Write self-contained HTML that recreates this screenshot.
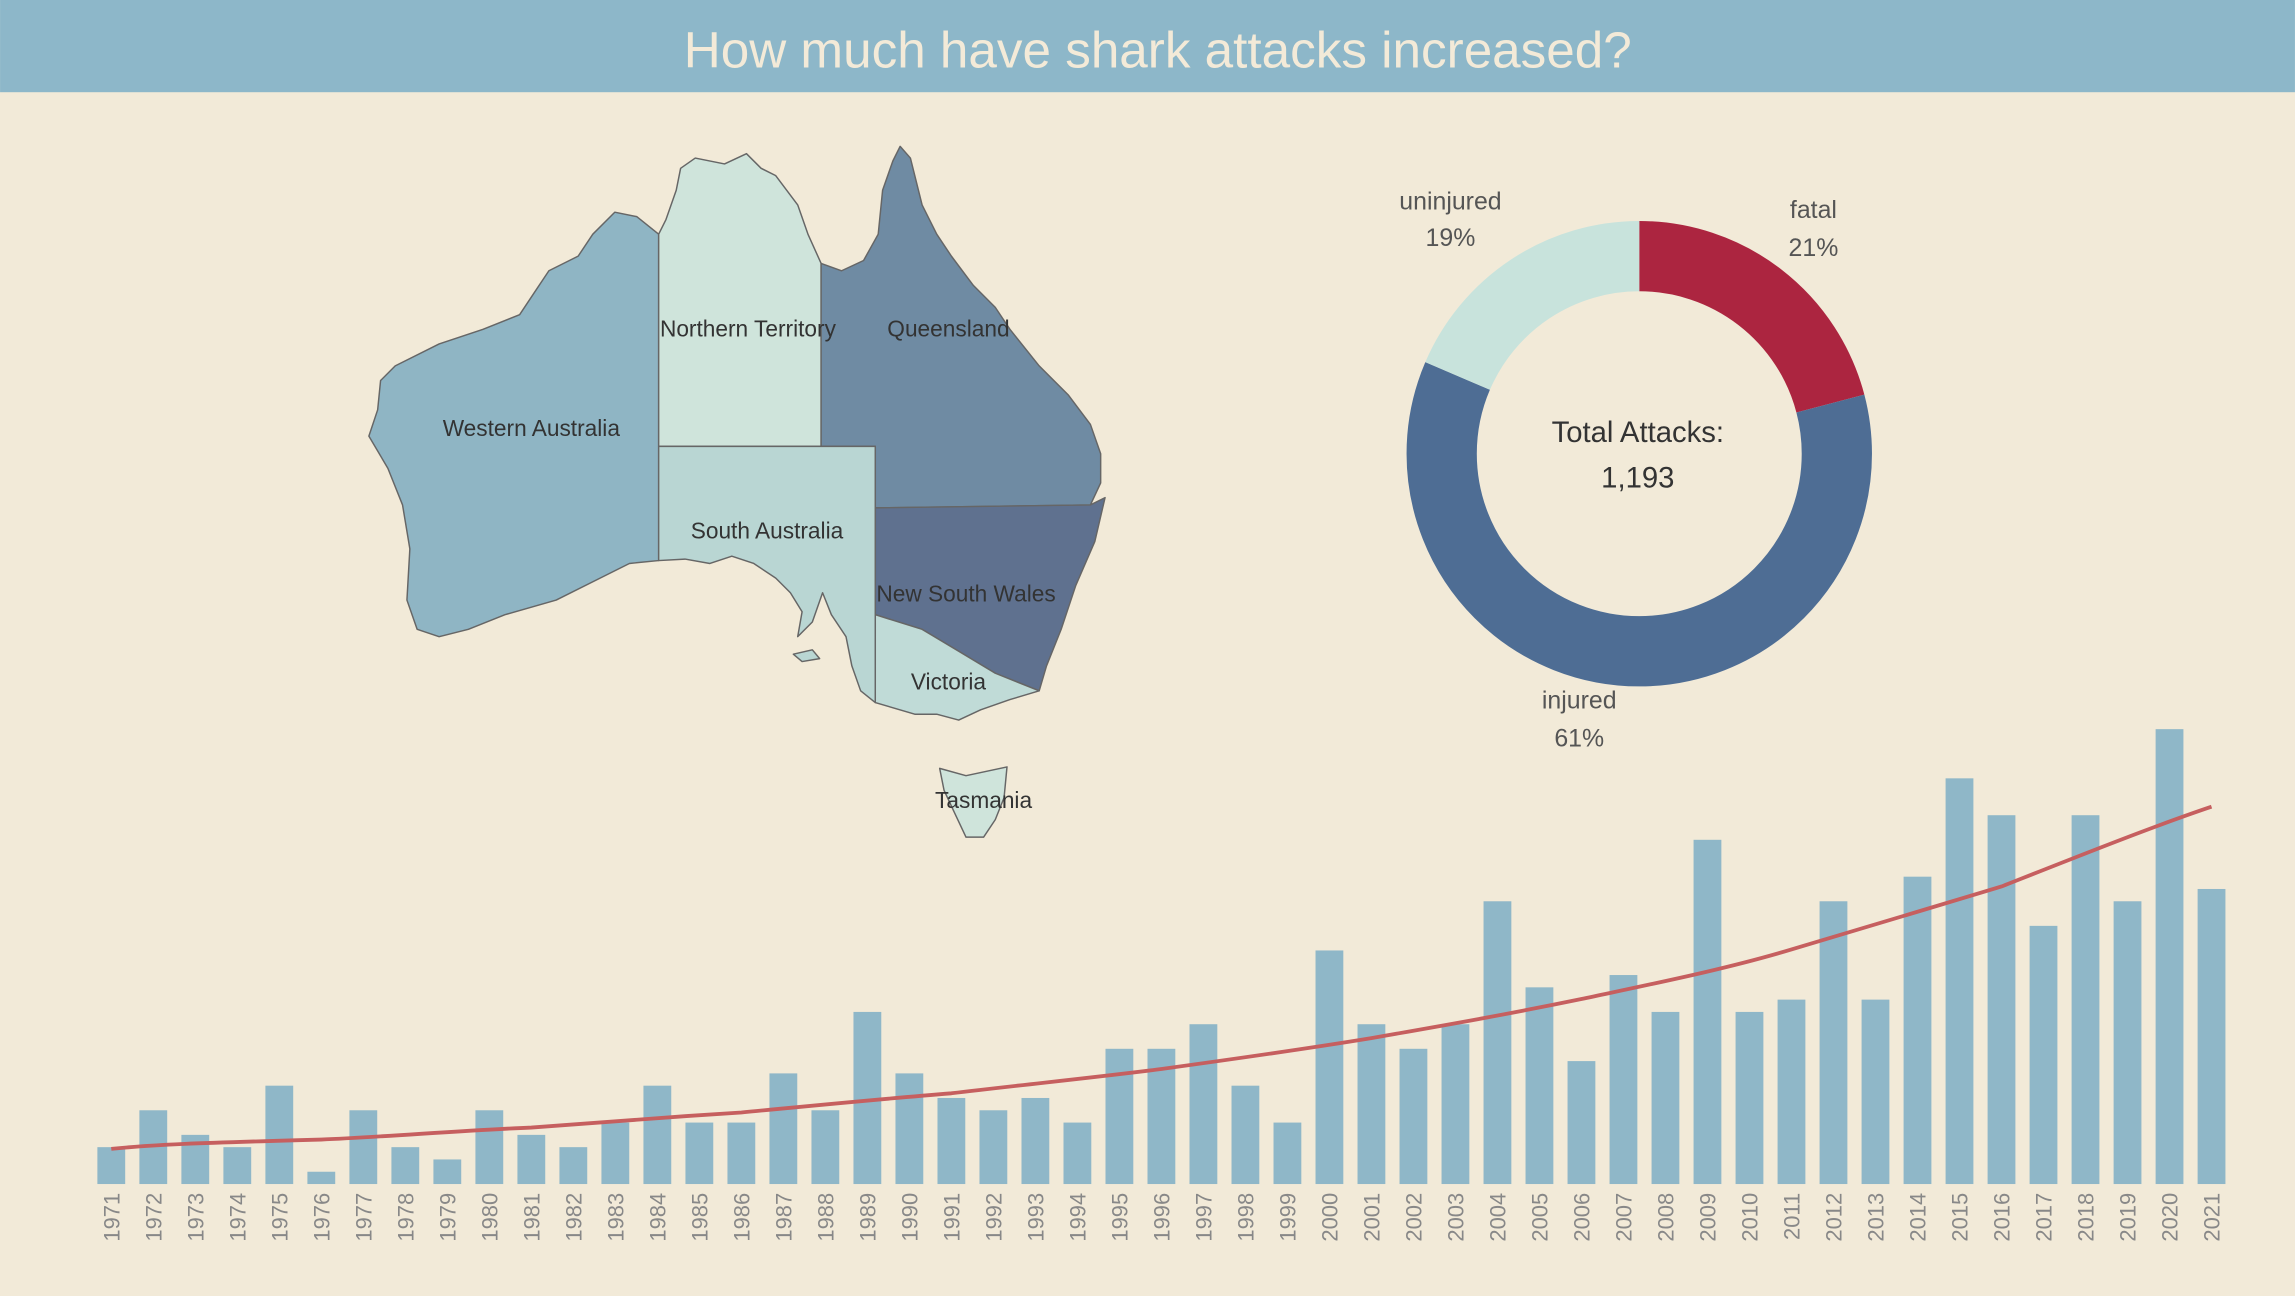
<!DOCTYPE html>
<html><head><meta charset="utf-8"><style>
html,body{margin:0;padding:0;background:#f2ead8;}
svg{display:block;font-family:"Liberation Sans",sans-serif;}
</style></head><body>
<svg width="2295" height="1296" viewBox="0 0 1568 885.5" xmlns="http://www.w3.org/2000/svg">
<rect width="1568" height="885.5" fill="#f2ead8"/>
<rect x="0" y="0" width="1568" height="63" fill="#8db7c9"/>
<text x="791" y="46" font-size="35" fill="#f3ead8" text-anchor="middle">How much have shark attacks increased?</text>

<g stroke="#666" stroke-width="1" stroke-linejoin="round">
<polygon fill="#8fb5c4" points="450,160 435,148 420,145 405,160 395,175 375,185 365,200 355,215 330,225 300,235 270,250 260,260 258,280 252,298 265,320 275,345 280,375 278,410 285,430 300,435 320,430 345,420 380,410 410,395 430,385 450,383"/>
<polygon fill="#cfe4db" points="450,160 455,150 462,130 465,115 475,108 495,112 510,105 520,115 530,120 545,140 552,160 561,180 561,305 450,305"/>
<polygon fill="#6f8ba3" points="561,180 575,185 590,178 600,160 603,130 610,110 615,100 622,108 630,140 640,160 650,175 665,195 680,210 690,225 710,250 730,270 745,290 752,310 752,330 745,345 598,347 598,305 561,305"/>
<polygon fill="#5f718f" points="598,347 745,345 755,340 748,370 735,400 725,430 715,455 710,472 680,460 655,445 630,430 598,420"/>
<polygon fill="#c0dbd7" points="598,420 630,430 655,445 680,460 710,472 690,478 670,485 655,492 640,488 625,488 598,480"/>
<polygon fill="#b9d6d3" points="450,305 598,305 598,480 588,472 582,455 578,435 568,420 562,405 555,425 545,435 548,418 540,405 530,395 515,385 500,380 485,385 468,382 450,383"/>
<polygon fill="#cfe4db" points="642,525 660,530 688,524 686,545 680,560 672,572 660,572 652,555 645,540"/>
<polygon fill="#b9d6d3" points="542,447 555,444 560,450 548,452"/>
</g>
<g font-size="15.5" fill="#333" text-anchor="middle">
<text x="363" y="298">Western Australia</text>
<text x="511" y="230">Northern Territory</text>
<text x="648" y="230">Queensland</text>
<text x="524" y="368">South Australia</text>
<text x="660" y="411">New South Wales</text>
<text x="648" y="471">Victoria</text>
<text x="672" y="552">Tasmania</text>
</g>

<g transform="rotate(-90 1120 310)" fill="none" stroke-width="48">
<circle cx="1120" cy="310" r="135" stroke="#ac2540" stroke-dasharray="177.3 670.9"/>
<circle cx="1120" cy="310" r="135" stroke="#4e6d94" stroke-dasharray="0 177.3 513.2 157.7"/>
<circle cx="1120" cy="310" r="135" stroke="#c8e3dc" stroke-dasharray="0 690.5 157.7 0"/>
</g>
<g font-size="17" fill="#555" text-anchor="middle">
<text x="991" y="143">uninjured</text><text x="991" y="168">19%</text>
<text x="1239" y="149">fatal</text><text x="1239" y="175">21%</text>
<text x="1079" y="484">injured</text><text x="1079" y="510">61%</text>
</g>
<g font-size="20" fill="#333" text-anchor="middle">
<text x="1119" y="302">Total Attacks:</text><text x="1119" y="333">1,193</text>
</g>

<g fill="#8fb7c8">
<rect x="66.5" y="783.8" width="19" height="25.2"/>
<rect x="95.2" y="758.6" width="19" height="50.4"/>
<rect x="123.9" y="775.4" width="19" height="33.6"/>
<rect x="152.6" y="783.8" width="19" height="25.2"/>
<rect x="181.3" y="741.8" width="19" height="67.2"/>
<rect x="210" y="800.6" width="19" height="8.4"/>
<rect x="238.7" y="758.6" width="19" height="50.4"/>
<rect x="267.4" y="783.8" width="19" height="25.2"/>
<rect x="296.1" y="792.2" width="19" height="16.8"/>
<rect x="324.8" y="758.6" width="19" height="50.4"/>
<rect x="353.5" y="775.4" width="19" height="33.6"/>
<rect x="382.2" y="783.8" width="19" height="25.2"/>
<rect x="410.9" y="767" width="19" height="42"/>
<rect x="439.6" y="741.8" width="19" height="67.2"/>
<rect x="468.3" y="767" width="19" height="42"/>
<rect x="497" y="767" width="19" height="42"/>
<rect x="525.7" y="733.4" width="19" height="75.6"/>
<rect x="554.4" y="758.6" width="19" height="50.4"/>
<rect x="583.1" y="691.4" width="19" height="117.6"/>
<rect x="611.8" y="733.4" width="19" height="75.6"/>
<rect x="640.5" y="750.2" width="19" height="58.8"/>
<rect x="669.2" y="758.6" width="19" height="50.4"/>
<rect x="697.9" y="750.2" width="19" height="58.8"/>
<rect x="726.6" y="767" width="19" height="42"/>
<rect x="755.3" y="716.6" width="19" height="92.4"/>
<rect x="784" y="716.6" width="19" height="92.4"/>
<rect x="812.7" y="699.8" width="19" height="109.2"/>
<rect x="841.4" y="741.8" width="19" height="67.2"/>
<rect x="870.1" y="767" width="19" height="42"/>
<rect x="898.8" y="649.4" width="19" height="159.6"/>
<rect x="927.5" y="699.8" width="19" height="109.2"/>
<rect x="956.2" y="716.6" width="19" height="92.4"/>
<rect x="984.9" y="699.8" width="19" height="109.2"/>
<rect x="1013.6" y="615.8" width="19" height="193.2"/>
<rect x="1042.3" y="674.6" width="19" height="134.4"/>
<rect x="1071" y="725" width="19" height="84"/>
<rect x="1099.7" y="666.2" width="19" height="142.8"/>
<rect x="1128.4" y="691.4" width="19" height="117.6"/>
<rect x="1157.1" y="573.8" width="19" height="235.2"/>
<rect x="1185.8" y="691.4" width="19" height="117.6"/>
<rect x="1214.5" y="683" width="19" height="126"/>
<rect x="1243.2" y="615.8" width="19" height="193.2"/>
<rect x="1271.9" y="683" width="19" height="126"/>
<rect x="1300.6" y="599" width="19" height="210"/>
<rect x="1329.3" y="531.8" width="19" height="277.2"/>
<rect x="1358" y="557" width="19" height="252"/>
<rect x="1386.7" y="632.6" width="19" height="176.4"/>
<rect x="1415.4" y="557" width="19" height="252"/>
<rect x="1444.1" y="615.8" width="19" height="193.2"/>
<rect x="1472.8" y="498.2" width="19" height="310.8"/>
<rect x="1501.5" y="607.4" width="19" height="201.6"/>
</g>
<path d="M76,785 C105,782 133,781 219.5,778.6 C260,777 320,772 363,770.4 C420,766 460,763 506.5,760.1 C560,755 600,751 650,747 C700,741 750,736 793.5,730.4 C840,724 890,717 937,709.3 C990,700 1030,693 1080.5,682.6 C1130,672 1180,662 1224,648.7 C1270,635 1320,620 1367.5,605.7 C1420,585 1470,565 1511,551.2" fill="none" stroke="#c65f5f" stroke-width="2.6"/>

<g font-size="15" fill="#888" text-anchor="end">
<text transform="translate(81.5,815) rotate(-90)">1971</text>
<text transform="translate(110.2,815) rotate(-90)">1972</text>
<text transform="translate(138.9,815) rotate(-90)">1973</text>
<text transform="translate(167.6,815) rotate(-90)">1974</text>
<text transform="translate(196.3,815) rotate(-90)">1975</text>
<text transform="translate(225,815) rotate(-90)">1976</text>
<text transform="translate(253.7,815) rotate(-90)">1977</text>
<text transform="translate(282.4,815) rotate(-90)">1978</text>
<text transform="translate(311.1,815) rotate(-90)">1979</text>
<text transform="translate(339.8,815) rotate(-90)">1980</text>
<text transform="translate(368.5,815) rotate(-90)">1981</text>
<text transform="translate(397.2,815) rotate(-90)">1982</text>
<text transform="translate(425.9,815) rotate(-90)">1983</text>
<text transform="translate(454.6,815) rotate(-90)">1984</text>
<text transform="translate(483.3,815) rotate(-90)">1985</text>
<text transform="translate(512,815) rotate(-90)">1986</text>
<text transform="translate(540.7,815) rotate(-90)">1987</text>
<text transform="translate(569.4,815) rotate(-90)">1988</text>
<text transform="translate(598.1,815) rotate(-90)">1989</text>
<text transform="translate(626.8,815) rotate(-90)">1990</text>
<text transform="translate(655.5,815) rotate(-90)">1991</text>
<text transform="translate(684.2,815) rotate(-90)">1992</text>
<text transform="translate(712.9,815) rotate(-90)">1993</text>
<text transform="translate(741.6,815) rotate(-90)">1994</text>
<text transform="translate(770.3,815) rotate(-90)">1995</text>
<text transform="translate(799,815) rotate(-90)">1996</text>
<text transform="translate(827.7,815) rotate(-90)">1997</text>
<text transform="translate(856.4,815) rotate(-90)">1998</text>
<text transform="translate(885.1,815) rotate(-90)">1999</text>
<text transform="translate(913.8,815) rotate(-90)">2000</text>
<text transform="translate(942.5,815) rotate(-90)">2001</text>
<text transform="translate(971.2,815) rotate(-90)">2002</text>
<text transform="translate(999.9,815) rotate(-90)">2003</text>
<text transform="translate(1028.6,815) rotate(-90)">2004</text>
<text transform="translate(1057.3,815) rotate(-90)">2005</text>
<text transform="translate(1086,815) rotate(-90)">2006</text>
<text transform="translate(1114.7,815) rotate(-90)">2007</text>
<text transform="translate(1143.4,815) rotate(-90)">2008</text>
<text transform="translate(1172.1,815) rotate(-90)">2009</text>
<text transform="translate(1200.8,815) rotate(-90)">2010</text>
<text transform="translate(1229.5,815) rotate(-90)">2011</text>
<text transform="translate(1258.2,815) rotate(-90)">2012</text>
<text transform="translate(1286.9,815) rotate(-90)">2013</text>
<text transform="translate(1315.6,815) rotate(-90)">2014</text>
<text transform="translate(1344.3,815) rotate(-90)">2015</text>
<text transform="translate(1373,815) rotate(-90)">2016</text>
<text transform="translate(1401.7,815) rotate(-90)">2017</text>
<text transform="translate(1430.4,815) rotate(-90)">2018</text>
<text transform="translate(1459.1,815) rotate(-90)">2019</text>
<text transform="translate(1487.8,815) rotate(-90)">2020</text>
<text transform="translate(1516.5,815) rotate(-90)">2021</text>
</g>
</svg>
</body></html>
